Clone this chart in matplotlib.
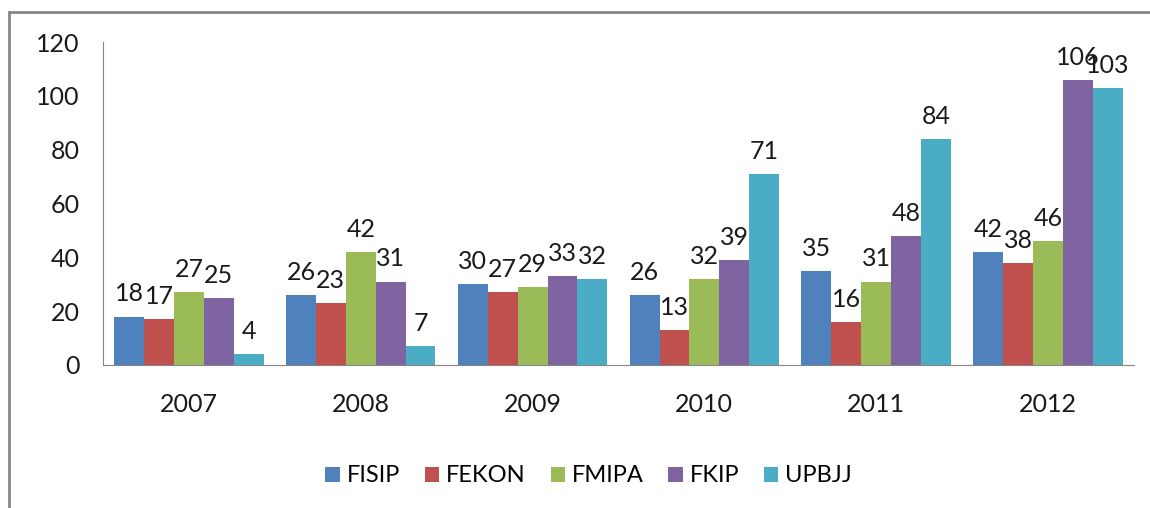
import numpy as np
import matplotlib
matplotlib.use("Agg")
from matplotlib import pyplot as plt
from matplotlib.patches import Rectangle

years = ["2007", "2008", "2009", "2010", "2011", "2012"]
faculties = ["FISIP", "FEKON", "FMIPA", "FKIP", "UPBJJ"]
fisip = [18, 26, 30, 26, 35, 42]
fekon = [17, 23, 27, 13, 16, 38]
fmipa = [27, 42, 29, 32, 31, 46]
fkip = [25, 31, 33, 39, 48, 106]
upbjj = [4, 7, 32, 71, 84, 103]
colors = ["#4F81BD", "#C0504D", "#9BBB59", "#8064A2", "#4BACC6"]

plt.rcParams["font.family"] = ["Lato", "DejaVu Sans"]

fig = plt.figure(figsize=(11.5, 5.08), dpi=100)
ax = fig.add_axes([0.0896, 0.2815, 0.8964, 0.6355])

# outer chart border (only top and left visible in the reference)
fig.patches.append(Rectangle((9 / 1150, -0.1), 1.2, 1 - 12 / 508 + 0.1,
                             transform=fig.transFigure, fill=False,
                             edgecolor="#868686", linewidth=2))

x = np.arange(len(years))
width = 0.174
series = [fisip, fekon, fmipa, fkip, upbjj]
for i, (name, vals) in enumerate(zip(faculties, series)):
    pos = x + (i - 2) * width
    bars = ax.bar(pos, vals, width, color=colors[i], label=name)
    for b, v in zip(bars, vals):
        ax.annotate(str(v), (b.get_x() + b.get_width() / 2, v),
                    xytext=(0, 8), textcoords="offset points",
                    ha="center", va="bottom", fontsize=18, color="#1a1a1a")

ax.set_xlim(-0.5, 5.5)
ax.set_ylim(0, 120)
ax.set_yticks(range(0, 121, 20))
ax.set_xticks(x)
ax.set_xticklabels(years)
ax.tick_params(axis="both", length=0, labelsize=18, colors="#1a1a1a")
ax.tick_params(axis="y", pad=17)
ax.tick_params(axis="x", pad=20)
for s in ["top", "right"]:
    ax.spines[s].set_visible(False)
for s in ["left", "bottom"]:
    ax.spines[s].set_color("#868686")

fig.legend(loc="center", bbox_to_anchor=(0.512, 0.063), ncol=5, frameon=False,
           fontsize=17, handlelength=0.6, handleheight=0.6, handletextpad=0.3,
           columnspacing=1.05)

fig.savefig("out.png", dpi=100)
